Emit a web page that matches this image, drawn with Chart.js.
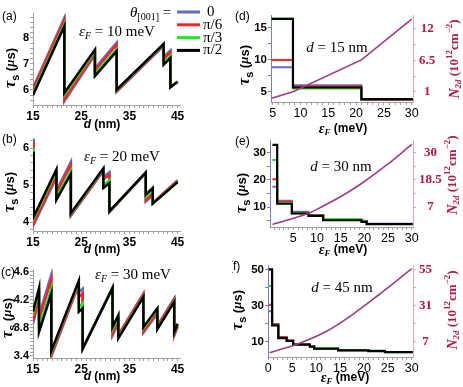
<!DOCTYPE html>
<html>
<head>
<meta charset="utf-8">
<script src="https://cdn.jsdelivr.net/npm/chart.js@4.4.1/dist/chart.umd.min.js"></script>
<style>
  body { margin: 0; background: #fff; width: 463px; height: 387px; position: relative; overflow: hidden; }
  canvas { position: absolute; }
</style>
</head>
<body>
<canvas id="ca" width="235" height="135" style="left:0px;top:0px"></canvas>
<canvas id="cb" width="235" height="130" style="left:0px;top:127px"></canvas>
<canvas id="cc" width="235" height="135" style="left:0px;top:252px"></canvas>
<canvas id="cd" width="231" height="140" style="left:232px;top:0px"></canvas>
<canvas id="ce" width="231" height="130" style="left:232px;top:127px"></canvas>
<canvas id="cf" width="231" height="135" style="left:232px;top:252px"></canvas>
<script>
// theta_[001] = 0, pi/6, pi/3, pi/2
const angleLabels = ['0', 'π/6', 'π/3', 'π/2'];

// (a) eF = 10 meV : tau_s vs d
const dA = [15, 21.5, 21.5, 27.85, 27.85, 32.35, 32.35, 42.1, 42.1, 43.5, 43.5, 45];
const tauA_0  = [6.08, 8.77, 5.56, 7.35, 6.83, 7.82, 5.93, 7.70, 7.27, 7.52, 6.10, 6.31];
const tauA_30 = [6.01, 8.69, 5.64, 7.40, 6.75, 7.74, 5.95, 7.72, 7.19, 7.45, 6.10, 6.31];
const tauA_60 = [5.87, 8.53, 5.80, 7.50, 6.60, 7.57, 5.99, 7.76, 7.04, 7.30, 6.10, 6.31];
const tauA_90 = [5.80, 8.45, 5.88, 7.55, 6.53, 7.49, 6.01, 7.77, 6.97, 7.23, 6.10, 6.31];

// (b) eF = 20 meV
const dB = [15, 15.15, 15.15, 19.85, 19.85, 22.85, 22.85, 29.6, 29.6, 30.85, 30.85, 38.4, 38.4, 39.85, 39.85, 45];
const tauB_0  = [6.22, 6.25, 3.93, 5.20, 4.85, 5.62, 4.17, 5.38, 5.22, 5.35, 4.27, 5.32, 4.55, 4.72, 4.52, 5.13];
const tauB_30 = [6.13, 6.16, 3.98, 5.25, 4.79, 5.54, 4.19, 5.40, 5.15, 5.28, 4.28, 5.33, 4.60, 4.77, 4.52, 5.12];
const tauB_60 = [5.95, 5.99, 4.10, 5.37, 4.66, 5.38, 4.22, 5.43, 5.00, 5.13, 4.29, 5.34, 4.69, 4.87, 4.50, 5.09];
const tauB_90 = [5.86, 5.90, 4.15, 5.42, 4.60, 5.30, 4.24, 5.45, 4.92, 5.05, 4.29, 5.34, 4.74, 4.92, 4.50, 5.08];

// (c) eF = 30 meV
const dC = [15, 16.25, 16.25, 18.8, 18.8, 24.5, 24.5, 25.3, 25.3, 31.5, 31.5, 32.7, 32.7, 37.9, 37.9, 40.8, 40.8, 44.3, 44.3, 45];
const tauC_0  = [3.86, 4.20, 3.98, 4.56, 3.39, 4.42, 4.31, 4.36, 3.50, 4.37, 3.69, 3.86, 3.70, 4.29, 3.73, 4.00, 3.83, 4.22, 3.69, 3.81];
const tauC_30 = [3.90, 4.24, 3.92, 4.49, 3.41, 4.43, 4.24, 4.29, 3.50, 4.37, 3.72, 3.89, 3.69, 4.28, 3.75, 4.02, 3.82, 4.21, 3.70, 3.82];
const tauC_60 = [3.99, 4.33, 3.80, 4.36, 3.45, 4.46, 4.10, 4.15, 3.50, 4.37, 3.78, 3.95, 3.66, 4.25, 3.79, 4.06, 3.79, 4.18, 3.73, 3.85];
const tauC_90 = [4.03, 4.37, 3.74, 4.29, 3.47, 4.47, 4.03, 4.08, 3.50, 4.37, 3.81, 3.98, 3.65, 4.24, 3.81, 4.08, 3.78, 4.17, 3.74, 3.86];

// (d) d = 15 nm : tau_s and N2d vs eF
const eD = [4.8, 8.65, 8.65, 20.95, 20.95, 30.2];
const tauD_0  = [8.86, 8.86, 6.05, 6.05, 3.75, 3.75];
const tauD_30 = [10.0, 10.0, 5.85, 5.85, 3.8, 3.8];
const tauD_60 = [16.4, 16.4, 5.55, 5.55, 3.85, 3.85];
const tauD_90 = [16.4, 16.4, 5.7, 5.7, 3.9, 3.9];
const eND = [4.8, 8.65, 20.95, 30];
const nD  = [-0.1, 1.05, 6.6, 13.7];

// (e) d = 30 nm
const eE = [0.6, 1.6, 1.6, 4.7, 4.7, 8.2, 8.2, 11.3, 11.3, 19.4, 19.4, 20.5, 20.5, 30.2];
const tauE_0  = [17.5, 17.5, 12.3, 12.3, 8.2, 8.2, 7.0, 7.0, 5.3, 5.3, 4.9, 4.9, 3.8, 3.8];
const tauE_30 = [20.3, 20.3, 11.9, 11.9, 7.9, 7.9, 6.9, 6.9, 5.3, 5.3, 4.7, 4.7, 3.7, 3.7];
const tauE_60 = [27.4, 27.4, 11.4, 11.4, 7.7, 7.7, 6.8, 6.8, 5.5, 5.5, 4.6, 4.6, 3.7, 3.7];
const tauE_90 = [33.0, 33.0, 11.2, 11.2, 7.6, 7.6, 6.7, 6.7, 5.1, 5.1, 4.5, 4.5, 3.7, 3.7];
const eNE = [0.6, 4.7, 8.2, 11.3, 15.5, 19.4, 25, 30];
const nE  = [-0.4, 2.0, 4.3, 7.4, 12.0, 17.0, 25.3, 33.6];

// (f) d = 45 nm
const eF = [0.1, 0.8, 0.8, 2.1, 2.1, 3.85, 3.85, 5.2, 5.2, 8.7, 8.7, 9.6, 9.6, 14.6, 14.6, 20.9, 20.9, 24.4, 24.4, 30.2];
const tauF_0  = [26.8, 26.8, 19.8, 19.8, 12.6, 12.6, 10.8, 10.8, 8.7, 8.7, 7.6, 7.6, 6.3, 6.3, 5.4, 5.4, 5.0, 5.0, 4.3, 4.3];
const tauF_30 = [30.4, 30.4, 19.6, 19.6, 12.4, 12.4, 10.7, 10.7, 8.6, 8.6, 7.5, 7.5, 6.2, 6.2, 5.3, 5.3, 4.9, 4.9, 4.3, 4.3];
const tauF_60 = [40.8, 40.8, 19.2, 19.2, 12.1, 12.1, 10.5, 10.5, 8.5, 8.5, 7.4, 7.4, 6.4, 6.4, 5.4, 5.4, 5.0, 5.0, 4.2, 4.2];
const tauF_90 = [50, 50, 19, 19, 12, 12, 10.4, 10.4, 8.4, 8.4, 7.3, 7.3, 6.1, 6.1, 5.2, 5.2, 4.8, 4.8, 4.2, 4.2];
const eNF = [0.3, 6.3, 11.9, 17.4, 23, 30];
const nF  = [-0.3, 5.7, 13.4, 24.5, 37.8, 55.4];

// tick labels
const dTicks = [15, 25, 35, 45];
const eTicksD = [5, 10, 15, 20, 25, 30];
const eTicksF = [0, 5, 10, 15, 20, 25, 30];
const yTicksA = [6, 7, 8];
const yTicksB = [4, 5, 6];
const yTicksC = [3.4, 3.8, 4.2, 4.6];
const yTicksD = [5, 10, 15], nTicksD = [1, 6.5, 12];
const yTicksE = [10, 20, 30], nTicksE = [7, 18.5, 30];
const yTicksF = [10, 30, 50], nTicksF = [7, 31, 55];

const COLORS = ['#5d6ec9', '#ff2020', '#22e822', '#000000'];
const PURPLE = '#9e3c7e', CRIMSON = '#b3163f';
const SERIF = '"Liberation Serif", serif';
const SANS = '"Liberation Sans", Arial, sans-serif';

function steps(lo, hi, step) {
    const out = [];
    for (let v = lo; v <= hi + 1e-9; v += step) out.push(+v.toFixed(4));
    return out;
}

function axis(o) {
    return {
        type: 'linear', position: o.pos, min: o.min, max: o.max,
        afterBuildTicks: s => { s.ticks = o.minor.map(v => ({ value: v })); },
        afterFit: s => { if (o.pos === 'bottom') s.height = o.size; else s.width = o.size; },
        ticks: {
            autoSkip: false, maxRotation: 0, padding: o.padding ?? 1,
            font: o.font, color: o.color || '#000', crossAlign: o.cross || 'near',
            callback: v => o.labels.includes(+(+v).toFixed(4)) ? String(v) : ''
        },
        grid: { drawOnChartArea: false, drawTicks: true, tickLength: 3, color: o.line || '#a0a0a0' },
        border: { display: true, color: o.line || '#a0a0a0', width: 1 }
    };
}

function line(xs, ys, color, width, yAxis, smooth) {
    return {
        data: xs.map((x, i) => ({ x: x, y: ys[i] })),
        showLine: true, borderColor: color, borderWidth: width,
        pointRadius: 0, fill: false, tension: 0, yAxisID: yAxis || 'y',
        cubicInterpolationMode: smooth ? 'monotone' : 'default'
    };
}

// text drawing with sub/superscripts: parts = [text, font, dy]
function rich(ctx, parts, x, y, align, rot, color) {
    ctx.save();
    ctx.translate(x, y);
    if (rot) ctx.rotate(rot);
    ctx.textBaseline = 'middle';
    let w = 0;
    parts.forEach(p => { ctx.font = p[1]; w += ctx.measureText(p[0]).width; });
    let cx = align === 'left' ? 0 : -w / 2;
    ctx.fillStyle = color || '#000';
    parts.forEach(p => {
        ctx.font = p[1];
        ctx.fillText(p[0], cx, p[2] || 0);
        cx += ctx.measureText(p[0]).width;
    });
    ctx.restore();
}

const tauTitle = [['τ', 'italic bold 16px ' + SERIF], ['s', 'bold 11px ' + SANS, 5],
    [' (', 'bold 13px ' + SANS], ['μ', 'italic bold 13px ' + SERIF], ['s)', 'bold 13px ' + SANS]];
const dTitle = [['d', 'italic bold 12px ' + SANS], [' (nm)', 'bold 12px ' + SANS]];
const eTitle = [['ε', 'italic bold 14px ' + SERIF], ['F', 'italic bold 9px ' + SERIF, 4], [' (meV)', 'bold 12px ' + SANS]];
const nTitle = [['N', 'italic bold 14px ' + SERIF], ['2d', 'italic bold 9px ' + SERIF, 4],
    [' (10', 'bold 13px ' + SERIF], ['12', 'bold 9px ' + SERIF, -5], ['cm', 'bold 13px ' + SERIF],
    ['−2', 'bold 9px ' + SERIF, -5], [')', 'bold 13px ' + SERIF]];
const efNote = v => [['ε', 'italic 15px ' + SERIF], ['F', 'italic 10px ' + SERIF, 4], [' = ' + v + ' meV', '15px ' + SERIF]];
const dNote = v => [['d', 'italic 15px ' + SERIF], [' = ' + v + ' nm', '15px ' + SERIF]];

const drawers = {};
const textPlugin = {
    id: 'texts',
    afterDraw(chart) {
        const f = drawers[chart.canvas.id];
        if (f) f(chart.ctx);
    }
};

function letter(ctx, t, x, y) {
    ctx.save();
    ctx.font = '12px ' + SANS;
    ctx.fillStyle = '#000';
    ctx.textBaseline = 'middle';
    ctx.fillText(t, x, y);
    ctx.restore();
}

function sawChart(id, d, series, yMin, yMax, yMinor, yLabels, padTop, xH) {
    const ds = [3, 2, 1, 0].map(k => line(d, series[k], COLORS[k], 2.5));
    new Chart(document.getElementById(id), {
        type: 'scatter',
        data: { datasets: ds },
        options: {
            responsive: false, animation: false, devicePixelRatio: 1, events: [],
            layout: { padding: { left: 0, right: 55, top: padTop, bottom: 0 } },
            plugins: { legend: { display: false }, tooltip: { enabled: false } },
            scales: {
                x: axis({ pos: 'bottom', min: 15, max: 45.5, minor: steps(15, 45, 1), labels: dTicks,
                    size: xH, font: { family: SANS, size: 12, weight: 'bold' } }),
                y: axis({ pos: 'left', min: yMin, max: yMax, minor: yMinor, labels: yLabels,
                    size: 33, font: { family: SANS, size: 11, weight: 'bold' } })
            }
        },
        plugins: [textPlugin]
    });
}

function stepChart(id, e, series, eN, n, sc, smooth) {
    const ds = [line(eN, n, PURPLE, 1.6, 'y2', smooth)]
        .concat([3, 2, 1, 0].map(k => line(e, series[k], COLORS[k], k === 3 ? 2.2 : 2)));
    new Chart(document.getElementById(id), {
        type: 'scatter',
        data: { datasets: ds },
        options: {
            responsive: false, animation: false, devicePixelRatio: 1, events: [],
            layout: { padding: { left: 0, right: 0, top: sc.padTop, bottom: 0 } },
            plugins: { legend: { display: false }, tooltip: { enabled: false } },
            scales: {
                x: axis({ pos: 'bottom', min: sc.xMin, max: sc.xMax, minor: sc.xMinor, labels: sc.xLabels,
                    size: sc.xH, font: { family: SANS, size: 12.5 } }),
                y: axis({ pos: 'left', min: sc.yMin, max: sc.yMax, minor: sc.yMinor, labels: sc.yLabels,
                    size: sc.yW, line: '#7a7ac8', font: { family: SANS, size: 11.5, weight: 'bold' } }),
                y2: axis({ pos: 'right', min: sc.nMin, max: sc.nMax, minor: sc.nMinor, labels: sc.nLabels,
                    size: 50, line: '#dba8c0', color: CRIMSON, cross: 'center', padding: 3,
                    font: { family: SERIF, size: 13, weight: 'bold' } })
            }
        },
        plugins: [textPlugin]
    });
}

// ---- left column ----
drawers.ca = ctx => {
    letter(ctx, '(a)', 2, 17);
    rich(ctx, tauTitle, 11, 68, 'center', -Math.PI / 2);
    rich(ctx, efNote(10), 117, 32, 'center');
    rich(ctx, dTitle, 102, 125, 'center');
    rich(ctx, [['θ', 'italic 15px ' + SERIF], ['[001]', '10px ' + SERIF, 4], [' =', '15px ' + SERIF]], 130, 13, 'left');
    angleLabels.forEach((t, i) => {
        const y = 12 + i * 12.8;
        ctx.save();
        ctx.strokeStyle = COLORS[i];
        ctx.lineWidth = 3;
        ctx.beginPath(); ctx.moveTo(177, y); ctx.lineTo(200, y); ctx.stroke();
        ctx.restore();
        rich(ctx, [[t, '15px ' + SERIF]], i === 0 ? 207 : 203, y, 'left');
    });
};
drawers.cb = ctx => {
    letter(ctx, '(b)', 2, 13);
    rich(ctx, tauTitle, 10, 65, 'center', -Math.PI / 2);
    rich(ctx, efNote(20), 122, 30, 'center');
    rich(ctx, dTitle, 102, 123, 'center');
};
drawers.cc = ctx => {
    letter(ctx, '(c)', 1, 21);
    rich(ctx, tauTitle, 8, 66, 'center', -Math.PI / 2);
    rich(ctx, efNote(30), 133, 23, 'center');
    rich(ctx, dTitle, 102, 125, 'center');
};

sawChart('ca', dA, [tauA_0, tauA_30, tauA_60, tauA_90], 5.42, 8.96, steps(5.6, 8.8, 0.2), yTicksA, 13, 30);
sawChart('cb', dB, [tauB_0, tauB_30, tauB_60, tauB_90], 3.76, 6.27, steps(3.8, 6.2, 0.2), yTicksB, 11, 26);
sawChart('cc', dC, [tauC_0, tauC_30, tauC_60, tauC_90], 3.37, 4.64, steps(3.4, 4.6, 0.05), yTicksC, 17, 29);

// ---- right column ----
drawers.cd = ctx => {
    letter(ctx, '(d)', 3, 17);
    rich(ctx, tauTitle, 13, 65, 'center', -Math.PI / 2);
    rich(ctx, dNote(15), 105, 48, 'center');
    rich(ctx, eTitle, 111, 129, 'center');
    rich(ctx, nTitle, 223, 59, 'center', -Math.PI / 2, CRIMSON);
};
drawers.ce = ctx => {
    letter(ctx, '(e)', 3, 15);
    rich(ctx, tauTitle, 10, 66, 'center', -Math.PI / 2);
    rich(ctx, dNote(30), 109, 40, 'center');
    rich(ctx, eTitle, 111, 123, 'center');
    rich(ctx, nTitle, 221, 48, 'center', -Math.PI / 2, CRIMSON);
};
drawers.cf = ctx => {
    letter(ctx, '(f)', -3, 15);
    rich(ctx, tauTitle, 6, 58, 'center', -Math.PI / 2);
    rich(ctx, dNote(45), 110, 36, 'center');
    rich(ctx, eTitle, 113, 126, 'center');
    rich(ctx, nTitle, 221, 58, 'center', -Math.PI / 2, CRIMSON);
};

stepChart('cd', eD, [tauD_0, tauD_30, tauD_60, tauD_90], eND, nD, {
    padTop: 15, xH: 38, yW: 39,
    xMin: 4.7, xMax: 30.23, xMinor: steps(5, 30, 1), xLabels: eTicksD,
    yMin: 3.44, yMax: 17.0, yMinor: steps(5, 15, 2.5), yLabels: yTicksD,
    nMin: -0.75, nMax: 14.44, nMinor: steps(1, 12, 2.75), nLabels: nTicksD
}, false);
stepChart('ce', eE, [tauE_0, tauE_30, tauE_60, tauE_90], eNE, nE, {
    padTop: 13, xH: 30, yW: 38,
    xMin: 0.08, xMax: 30.27, xMinor: steps(1, 30, 1), xLabels: eTicksD,
    yMin: 2.6, yMax: 34.8, yMinor: steps(5, 30, 5), yLabels: yTicksE,
    nMin: -1.5, nMax: 35.5, nMinor: steps(7, 30, 5.75), nLabels: nTicksE
}, true);
stepChart('cf', eF, [tauF_0, tauF_30, tauF_60, tauF_90], eNF, nF, {
    padTop: 13, xH: 30, yW: 36,
    xMin: -0.06, xMax: 30.27, xMinor: steps(0, 30, 1), xLabels: eTicksF,
    yMin: 1.55, yMax: 52.4, yMinor: steps(10, 50, 10), yLabels: yTicksF,
    nMin: -3.14, nMax: 57.85, nMinor: steps(7, 55, 12), nLabels: nTicksF
}, true);
</script>
</body>
</html>
